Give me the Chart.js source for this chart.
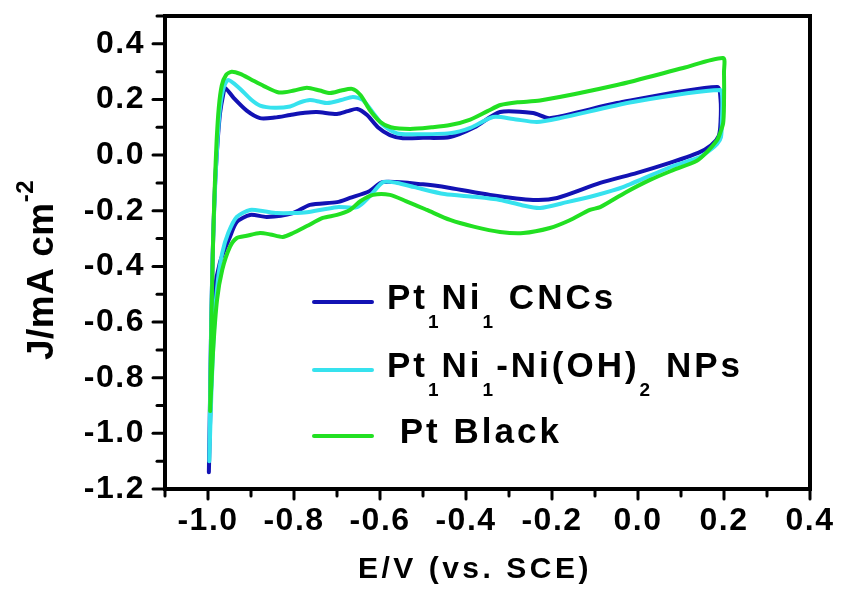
<!DOCTYPE html>
<html>
<head>
<meta charset="utf-8">
<script src="https://cdn.jsdelivr.net/npm/chart.js@4.4.0/dist/chart.umd.min.js"></script>
<style>
  html, body { margin: 0; padding: 0; background: #fff; }
  #wrap { width: 842px; height: 590px; }
</style>
</head>
<body>
<div id="wrap"><canvas id="cv"></canvas></div>
<script>
// tick labels
const xTickLabels = ['-1.0', '-0.8', '-0.6', '-0.4', '-0.2', '0.0', '0.2', '0.4'];
const xMinorTicks = [-1.1, -0.9, -0.7, -0.5, -0.3, -0.1, 0.1, 0.3];
const yTickLabels = ['-1.2', '-1.0', '-0.8', '-0.6', '-0.4', '-0.2', '0.0', '0.2', '0.4'];
const yMinorTicks = [-1.1, -0.9, -0.7, -0.5, -0.3, -0.1, 0.1, 0.3, 0.5];

// series labels (_{} = subscript)
const seriesLabels = ['Pt_{1}Ni_{1} CNCs', 'Pt_{1}Ni_{1}-Ni(OH)_{2} NPs', ' Pt Black'];

// Pt1Ni1 CNCs (E / J)
const cncE = [-0.998, -0.996, -0.993, -0.989, -0.984, -0.978, -0.972, -0.965, -0.960, -0.94, -0.91, -0.879,
  -0.845, -0.809, -0.775, -0.747, -0.700, -0.675, -0.653, -0.630, -0.605, -0.577, -0.547, -0.50, -0.437,
  -0.38, -0.321, -0.244, -0.205, -0.049, 0.184, 0.192, 0.192, 0.188, 0.170, 0.140, 0.07, -0.002, -0.088,
  -0.188, -0.244, -0.344, -0.437, -0.50, -0.593, -0.625, -0.670, -0.700, -0.763, -0.802, -0.863, -0.902,
  -0.933, -0.949, -0.972, -0.984, -0.990, -0.995, -0.998];
const cncJ = [-1.14, -0.95, -0.65, -0.35, -0.12, 0.04, 0.15, 0.215, 0.241, 0.205, 0.160, 0.133,
  0.135, 0.144, 0.152, 0.155, 0.148, 0.158, 0.166, 0.144, 0.100, 0.072, 0.061, 0.062, 0.065,
  0.100, 0.155, 0.151, 0.133, 0.187, 0.245, 0.20, 0.12, 0.07, 0.035, 0.008, -0.030, -0.064, -0.100,
  -0.154, -0.161, -0.143, -0.118, -0.105, -0.097, -0.130, -0.154, -0.169, -0.179, -0.208, -0.222, -0.215,
  -0.240, -0.294, -0.384, -0.485, -0.70, -0.95, -1.14];

// Pt1Ni1-Ni(OH)2 NPs
const npE = [-0.997, -0.995, -0.992, -0.988, -0.983, -0.978, -0.972, -0.963, -0.953, -0.93, -0.90, -0.879,
  -0.845, -0.809, -0.785, -0.763, -0.740, -0.723, -0.69, -0.663, -0.640, -0.615, -0.593, -0.560, -0.52,
  -0.437, -0.39, -0.337, -0.29, -0.235, -0.181, -0.012, 0.191, 0.196, 0.195, 0.193, 0.184, 0.165, 0.144,
  0.08, -0.035, -0.10, -0.165, -0.228, -0.27, -0.321, -0.38, -0.450, -0.52, -0.56, -0.593, -0.625, -0.653,
  -0.700, -0.770, -0.802, -0.840, -0.870, -0.902, -0.933, -0.953, -0.967, -0.977, -0.985, -0.992, -0.997];
const npJ = [-1.10, -0.85, -0.55, -0.30, -0.10, 0.05, 0.17, 0.245, 0.270, 0.245, 0.200, 0.178,
  0.170, 0.175, 0.190, 0.198, 0.192, 0.187, 0.198, 0.209, 0.198, 0.150, 0.108, 0.078, 0.075,
  0.079, 0.098, 0.137, 0.130, 0.119, 0.133, 0.191, 0.234, 0.20, 0.12, 0.065, 0.040, 0.015, -0.007,
  -0.040, -0.115, -0.145, -0.169, -0.190, -0.180, -0.161, -0.150, -0.140, -0.115, -0.100, -0.097, -0.150, -0.187,
  -0.187, -0.205, -0.208, -0.208, -0.202, -0.197, -0.222, -0.280, -0.352, -0.45, -0.60, -0.85, -1.10];

// Pt Black
const blackE = [-0.995, -0.992, -0.988, -0.984, -0.980, -0.975, -0.968, -0.958, -0.945, -0.925, -0.90, -0.87,
  -0.835, -0.80, -0.77, -0.74, -0.716, -0.69, -0.665, -0.645, -0.625, -0.60, -0.575, -0.53, -0.48, -0.437,
  -0.39, -0.35, -0.32, -0.28, -0.228, -0.049, 0.105, 0.198, 0.200, 0.200, 0.198, 0.190, 0.184, 0.160, 0.137,
  0.08, 0.028, -0.03, -0.088, -0.112, -0.16, -0.205, -0.267, -0.321, -0.38, -0.437, -0.491, -0.54, -0.577,
  -0.616, -0.645, -0.670, -0.700, -0.733, -0.77, -0.802, -0.826, -0.855, -0.879, -0.91, -0.933, -0.949,
  -0.967, -0.979, -0.988, -0.995];
const blackJ = [-0.92, -0.60, -0.30, -0.10, 0.05, 0.17, 0.25, 0.288, 0.300, 0.292, 0.272, 0.248,
  0.225, 0.232, 0.242, 0.232, 0.223, 0.232, 0.238, 0.215, 0.165, 0.120, 0.100, 0.094, 0.100, 0.108,
  0.128, 0.158, 0.180, 0.190, 0.196, 0.252, 0.313, 0.349, 0.30, 0.18, 0.115, 0.075, 0.054, 0.011, -0.020,
  -0.055, -0.089, -0.135, -0.187, -0.197, -0.235, -0.262, -0.280, -0.276, -0.258, -0.233, -0.197, -0.165, -0.143,
  -0.143, -0.165, -0.197, -0.215, -0.226, -0.255, -0.280, -0.294, -0.285, -0.280, -0.290, -0.298, -0.330,
  -0.413, -0.521, -0.70, -0.92];

const COLORS = ['#1212b4', '#36e2ee', '#22e022'];
const FONT = "'Liberation Sans', Arial, sans-serif";

function toPoints(es, js) {
  return es.map((e, i) => ({ x: e, y: js[i] }));
}

// "Pt_{1}Ni" -> [{t:'Pt',s:0},{t:'1',s:-1},{t:'Ni',s:0}]
function parseRich(str) {
  const parts = [];
  const re = /([_^])\{([^}]*)\}/g;
  let last = 0, m;
  while ((m = re.exec(str)) !== null) {
    if (m.index > last) parts.push({ t: str.slice(last, m.index), s: 0 });
    parts.push({ t: m[2], s: m[1] === '_' ? -1 : 1 });
    last = re.lastIndex;
  }
  if (last < str.length) parts.push({ t: str.slice(last), s: 0 });
  return parts;
}

function drawRich(ctx, str, x, y, size, subSize, subShift, spacing) {
  let cx = x;
  parseRich(str).forEach(p => {
    const sz = p.s === 0 ? size : subSize;
    ctx.font = 'bold ' + sz + 'px ' + FONT;
    ctx.letterSpacing = spacing + 'px';
    const dy = p.s === 0 ? 0 : (p.s < 0 ? subShift : -subShift);
    ctx.fillText(p.t, cx, y + dy);
    cx += ctx.measureText(p.t).width;
  });
}

const decor = {
  id: 'decor',
  beforeDraw(chart) {
    chart.ctx.letterSpacing = '1.5px';
  },
  afterDraw(chart) {
    const ctx = chart.ctx;
    const ca = chart.chartArea;
    const xs = chart.scales.x, ys = chart.scales.y;
    ctx.save();
    ctx.strokeStyle = '#000';
    ctx.fillStyle = '#000';
    ctx.lineWidth = 4;
    ctx.strokeRect(ca.left, ca.top, ca.right - ca.left, ca.bottom - ca.top);

    // ticks
    ctx.lineWidth = 3;
    ctx.lineCap = 'round';
    const xMajor = xTickLabels.map(parseFloat);
    const yMajor = yTickLabels.map(parseFloat);
    xMajor.concat(xMinorTicks).forEach((v, i) => {
      const len = i < xMajor.length ? 8 : 5;
      const px = xs.getPixelForValue(v);
      ctx.beginPath();
      ctx.moveTo(px, ca.bottom);
      ctx.lineTo(px, ca.bottom + 2 + len);
      ctx.stroke();
    });
    yMajor.concat(yMinorTicks).forEach((v, i) => {
      const len = i < yMajor.length ? 10 : 6;
      const py = ys.getPixelForValue(v);
      ctx.beginPath();
      ctx.moveTo(ca.left, py);
      ctx.lineTo(ca.left - 2 - len, py);
      ctx.stroke();
    });

    // axis titles
    ctx.textAlign = 'left';
    ctx.textBaseline = 'alphabetic';
    drawRich(ctx, 'E/V (vs. SCE)', 358, 578, 30, 20, 0, 3.5);
    ctx.save();
    ctx.translate(53, 360);
    ctx.rotate(-Math.PI / 2);
    drawRich(ctx, 'J/mA cm^{-2}', 0, 0, 37, 24, 20, 0.5);
    ctx.restore();

    // legend
    const rows = [302, 370, 436];
    seriesLabels.forEach((lab, i) => {
      ctx.strokeStyle = COLORS[i];
      ctx.lineWidth = 4;
      ctx.lineCap = 'round';
      ctx.beginPath();
      ctx.moveTo(314, rows[i]);
      ctx.lineTo(372, rows[i]);
      ctx.stroke();
      ctx.fillStyle = '#000';
      drawRich(ctx, lab, 387, rows[i] + 7, 35, 19, 19, 3);
    });
    ctx.restore();
    ctx.letterSpacing = '0px';
  }
};

const tickFont = { family: FONT, size: 32, weight: 'bold' };

new Chart(document.getElementById('cv'), {
  type: 'scatter',
  data: {
    datasets: [
      { label: seriesLabels[0], data: toPoints(cncE, cncJ), borderColor: COLORS[0], order: 3 },
      { label: seriesLabels[1], data: toPoints(npE, npJ), borderColor: COLORS[1], order: 2 },
      { label: seriesLabels[2], data: toPoints(blackE, blackJ), borderColor: COLORS[2], order: 1 }
    ].map(d => Object.assign(d, {
      showLine: true,
      fill: false,
      borderWidth: 4,
      pointRadius: 0,
      tension: 0.25,
      borderJoinStyle: 'round',
      borderCapStyle: 'round'
    }))
  },
  options: {
    responsive: true,
    maintainAspectRatio: false,
    animation: false,
    devicePixelRatio: 1,
    layout: { padding: { top: 16, right: 32, bottom: 0, left: 0 } },
    plugins: {
      legend: { display: false },
      tooltip: { enabled: false }
    },
    scales: {
      x: {
        type: 'linear',
        min: -1.1,
        max: 0.4,
        grid: { display: false, drawTicks: false },
        border: { display: false },
        afterBuildTicks: s => {
          s.ticks = xTickLabels.map(l => ({ value: parseFloat(l) }));
        },
        afterFit: s => {
          s.height = 101;
          s.paddingLeft = 0;
          s.paddingRight = 0;
        },
        ticks: {
          autoSkip: false,
          maxRotation: 0,
          padding: 13,
          color: '#000',
          font: tickFont,
          callback: (v, i) => xTickLabels[i]
        }
      },
      y: {
        type: 'linear',
        min: -1.2,
        max: 0.5,
        grid: { display: false, drawTicks: false },
        border: { display: false },
        afterBuildTicks: s => {
          s.ticks = yTickLabels.map(l => ({ value: parseFloat(l) }));
        },
        afterFit: s => {
          s.width = 165;
          s.paddingTop = 0;
          s.paddingBottom = 0;
        },
        ticks: {
          autoSkip: false,
          padding: 20,
          color: '#000',
          font: tickFont,
          callback: (v, i) => yTickLabels[i]
        }
      }
    }
  },
  plugins: [decor]
});
</script>
</body>
</html>
